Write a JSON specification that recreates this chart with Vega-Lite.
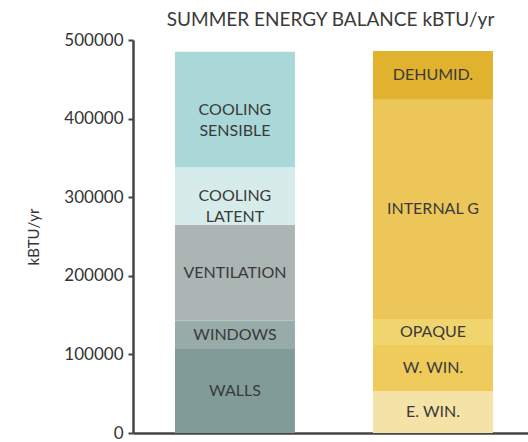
{
  "$schema": "https://vega.github.io/schema/vega-lite/v6.json",
  "autosize": "none",
  "padding": {"top": 40, "left": 133, "right": 0, "bottom": 9},
  "width": 395,
  "height": 393,
  "background": "white",
  "title": {
    "text": "SUMMER ENERGY BALANCE kBTU/yr",
    "anchor": "middle",
    "font": "Lato",
    "fontSize": 19,
    "fontWeight": "normal",
    "color": "#3a3a3a",
    "offset": 1
  },
  "config": {
    "view": {"stroke": null},
    "font": "Lato"
  },
  "data": {
    "values": [
      {"bar": "Cooling", "seq": 1, "label": "WALLS", "value": 107000},
      {"bar": "Cooling", "seq": 2, "label": "WINDOWS", "value": 36000},
      {"bar": "Cooling", "seq": 3, "label": "VENTILATION", "value": 122000},
      {"bar": "Cooling", "seq": 4, "label": "COOLING\nLATENT", "value": 73000},
      {"bar": "Cooling", "seq": 5, "label": "COOLING\nSENSIBLE", "value": 147000},
      {"bar": "Gains", "seq": 1, "label": "E. WIN.", "value": 53000},
      {"bar": "Gains", "seq": 2, "label": "W. WIN.", "value": 59000},
      {"bar": "Gains", "seq": 3, "label": "OPAQUE", "value": 33000},
      {"bar": "Gains", "seq": 4, "label": "INTERNAL G", "value": 279000},
      {"bar": "Gains", "seq": 5, "label": "DEHUMID.", "value": 62000}
    ]
  },
  "transform": [
    {"stack": "value", "groupby": ["bar"], "sort": [{"field": "seq", "order": "ascending"}], "as": ["v0", "v1"]}
  ],
  "layer": [
    {
      "mark": {"type": "bar"},
      "encoding": {
        "x": {
          "field": "bar", "type": "nominal",
          "scale": {"paddingInner": 0.394, "paddingOuter": 0.1945, "align": 0.545},
          "axis": {"labels": false, "ticks": false, "title": null, "domainColor": "#444", "domainWidth": 2.5}
        },
        "y": {
          "field": "v0", "type": "quantitative",
          "scale": {"domain": [0, 500000], "nice": false},
          "axis": {
            "values": [0, 100000, 200000, 300000, 400000, 500000],
            "format": "d",
            "grid": false,
            "title": "kBTU/yr",
            "titleFont": "Lato",
            "titleFontSize": 15,
            "titleFontWeight": "normal",
            "titleColor": "#333",
            "titlePadding": 22,
            "labelFont": "Lato",
            "labelFontSize": 17,
            "labelColor": "#333",
            "labelPadding": 5,
            "tickSize": 5,
            "tickColor": "#444",
            "tickWidth": 2,
            "domainColor": "#444",
            "domainWidth": 2.5
          }
        },
        "y2": {"field": "v1"},
        "color": {
          "field": "label", "type": "nominal", "legend": null,
          "scale": {
            "domain": ["WALLS", "WINDOWS", "VENTILATION", "COOLING\nLATENT", "COOLING\nSENSIBLE", "E. WIN.", "W. WIN.", "OPAQUE", "INTERNAL G", "DEHUMID."],
            "range": ["#819c98", "#97aba8", "#abb5b4", "#d6ecea", "#aad8d9", "#f5e2a6", "#eecb5a", "#f0d46e", "#edc65a", "#e0b22e"]
          }
        }
      }
    },
    {
      "transform": [
        {"fold": ["v0", "v1"], "as": ["edge", "pos"]},
        {"aggregate": [{"op": "mean", "field": "pos", "as": "mid"}], "groupby": ["bar", "label"]}
      ],
      "mark": {"type": "text", "font": "Lato", "fontSize": 16, "color": "#3a3a3a", "lineBreak": "\n", "baseline": "middle", "lineHeight": 21},
      "encoding": {
        "x": {"field": "bar", "type": "nominal"},
        "y": {"field": "mid", "type": "quantitative"},
        "text": {"field": "label"}
      }
    }
  ]
}
